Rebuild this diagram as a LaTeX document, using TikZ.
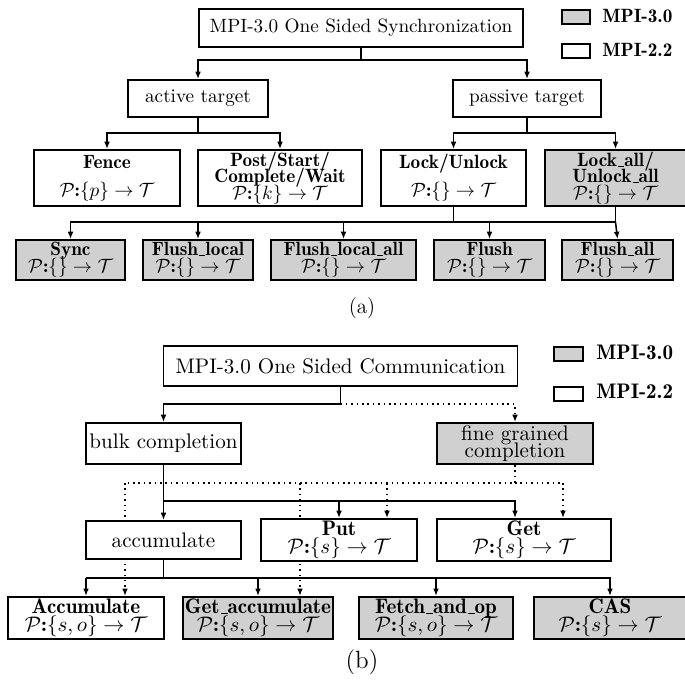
\documentclass[tikz,border=0pt]{standalone}
\usetikzlibrary{arrows.meta,backgrounds}
\definecolor{boxgray}{RGB}{208,208,208}
\newcommand\mymap[1]{$\mathcal{P}$:$\{#1\}\rightarrow\mathcal{T}$}
\newcommand\usc{\kern.06em\vbox{\hrule width.32em}}
\newcommand\bsize{\fontsize{10.95}{13.6}\selectfont}
\begin{document}
\begin{tikzpicture}[x=0.52pt,y=-0.52pt,
  sz/.style 2 args={minimum width=#1*0.52pt, minimum height=#2*0.52pt},
  catbox/.style={draw, line width=1pt, fill=white, align=center, inner sep=1pt},
  leaf/.style={catbox, font=\fontseries{b}\selectfont},
  newbox/.style={fill=boxgray},
  legbox/.style={draw, line width=1pt, fill=white, inner sep=0pt},
  legtxt/.style={anchor=west, inner sep=0pt, font=\fontseries{b}\selectfont},
  conn/.style={line width=0.8pt},
  arr/.style={conn, -{Latex[length=3.8pt,width=3pt]}},
  dotconn/.style={conn, dotted},
  dotarr/.style={arr, dotted}]
\useasboundingbox (0,0) rectangle (685,682);

% ---------------- (a) ----------------
\node[catbox, sz={324}{38}] (topA) at (361,28) {MPI-3.0 One Sided Synchronization};
\node[legbox, newbox, sz={28}{14}] (lg1) at (576,17) {};
\node[legtxt] (lt1) at (602,16) {MPI-3.0};
\node[legbox, sz={28}{14}] (lg2) at (576,51) {};
\node[legtxt] (lt2) at (602,50) {MPI-2.2};

\node[catbox, sz={140}{37}] (act) at (198,98.5) {active target};
\node[catbox, sz={148}{37}] (pas) at (527,98.5) {passive target};

\node[leaf, sz={146}{56}] (fence) at (107,178) {Fence\\[2.6pt]\mymap{p}};
\node[leaf, sz={164}{56}] (post) at (280,178) {Post/Start/\\[-3.5pt]Complete/Wait\\[-3.5pt]\mymap{k}};
\node[leaf, sz={145}{56}] (lock) at (453.5,178) {Lock/Unlock\\[2.6pt]\mymap{}};
\node[leaf, newbox, sz={141}{56}] (lockall) at (615.5,178) {Lock\usc all/\\[-3.5pt]Unlock\usc all\\[-3.5pt]\mymap{}};

\node[leaf, newbox, sz={109}{40}] (sync) at (70.5,260) {Sync\\[-3pt]\mymap{}};
\node[leaf, newbox, sz={110}{40}] (fl) at (198,260) {Flush\usc local\\[-3pt]\mymap{}};
\node[leaf, newbox, sz={145}{40}] (fla) at (343.5,260) {Flush\usc local\usc all\\[-3pt]\mymap{}};
\node[leaf, newbox, sz={111}{40}] (fs) at (489.5,260) {Flush\\[-3pt]\mymap{}};
\node[leaf, newbox, sz={111}{40}] (fsa) at (617.5,260) {Flush\usc all\\[-3pt]\mymap{}};

\node[font=\fontsize{11}{13}\selectfont] (capA) at (362,308) {(a)};

\coordinate (jA) at (0,60);
\coordinate (jB) at (0,133);
\coordinate (jC) at (0,222);

\begin{pgfonlayer}{background}
\draw[arr] (topA.south) |- (act.north |- jA) -- (act.north);
\draw[arr] (topA.south |- jA) -| (pas.north);
\draw[arr] (act.south) |- (fence.north |- jB) -- (fence.north);
\draw[arr] (act.south |- jB) -| (post.north);
\draw[arr] (pas.south) |- (lock.north |- jB) -- (lock.north);
\draw[arr] (pas.south |- jB) -| (lockall.north);
\draw[conn] (lock.south) -- (lock.south |- jC);
\draw[arr] (lockall.south) |- (sync.north |- jC) -- (sync.north);
\draw[arr] (fl.north |- jC) -- (fl.north);
\draw[arr] (fla.north |- jC) -- (fla.north);
\draw[arr] (fs.north |- jC) -- (fs.north);
\draw[arr] (lockall.south |- jC) -- (fsa.north);
\end{pgfonlayer}

% ---------------- (b) ----------------
\begin{scope}[catbox/.style={draw, line width=1pt, fill=white, align=center, inner sep=1pt, font=\bsize},
  leaf/.style={catbox, font=\bsize\fontseries{b}\selectfont},
  legtxt/.style={anchor=west, inner sep=0pt, font=\bsize\fontseries{b}\selectfont}]
\node[catbox, sz={354}{40}] (topB) at (340.5,366) {MPI-3.0 One Sided Communication};
\node[legbox, newbox, sz={29}{14}] (lg3) at (568.5,354) {};
\node[legtxt] (lt3) at (596,352) {MPI-3.0};
\node[legbox, sz={29}{14}] (lg4) at (568.5,394) {};
\node[legtxt] (lt4) at (596,391) {MPI-2.2};

\node[catbox, sz={155}{41}] (bulk) at (163.5,443.5) {bulk completion};
\node[catbox, newbox, sz={156}{41}] (fine) at (515,443.5) {fine grained\\[-4.5pt]completion};

\node[catbox, sz={155}{38}] (accu) at (163.5,540) {accumulate};
\node[leaf, sz={156}{38}] (put) at (339,540) {Put\\[-4pt]\mymap{s}};
\node[leaf, sz={174}{38}] (get) at (524,540) {Get\\[-4pt]\mymap{s}};

\node[leaf, sz={156}{40}] (acc) at (86,618) {Accumulate\\[-4pt]\mymap{s,o}};
\node[leaf, newbox, sz={150}{40}] (gacc) at (258,618) {Get\usc accumulate\\[-4pt]\mymap{s,o}};
\node[leaf, newbox, sz={154}{40}] (fop) at (436,618) {Fetch\usc and\usc op\\[-4pt]\mymap{s,o}};
\node[leaf, newbox, sz={152}{40}] (cas) at (610,618) {CAS\\[-4pt]\mymap{s}};

\node[font=\fontsize{13}{15}\selectfont] (capB) at (362,662) {(b)};
\end{scope}

\coordinate (jD) at (0,404);
\coordinate (jE) at (0,483);
\coordinate (jF) at (0,501);
\coordinate (jG) at (0,578);
\coordinate (xd1) at (125,0);
\coordinate (xd2) at (300,0);
\coordinate (xd3) at (387,0);
\coordinate (xd4) at (563,0);

\begin{pgfonlayer}{background}
\draw[arr] (topB.south) |- (bulk.north |- jD) -- (bulk.north);
\draw[dotarr] (topB.south |- jD) -| (fine.north);
\draw[arr] (bulk.south) |- (put.north |- jF) -- (put.north);
\draw[arr] (bulk.south |- jF) -- (accu.north);
\draw[arr] (put.north |- jF) -| (fine.south |- get.north);
\draw[dotconn] (fine.south) |- (xd1 |- jE);
\draw[dotconn] (fine.south |- jE) -- (xd4 |- jE);
\draw[dotarr] (xd1 |- jE) -- (xd1 |- acc.north);
\draw[dotarr] (xd2 |- jE) -- (xd2 |- gacc.north);
\draw[dotarr] (xd3 |- jE) -- (xd3 |- put.north);
\draw[dotarr] (xd4 |- jE) -- (xd4 |- get.north);
\draw[conn] (accu.south) -- (accu.south |- jG);
\draw[arr] (acc.north |- jG) -- (acc.north);
\draw[arr] (acc.north |- jG) -| (gacc.north);
\draw[arr] (fop.north |- jG) -- (fop.north);
\draw[arr] (acc.north |- jG) -| (cas.north);
\end{pgfonlayer}
\end{tikzpicture}
\end{document}
